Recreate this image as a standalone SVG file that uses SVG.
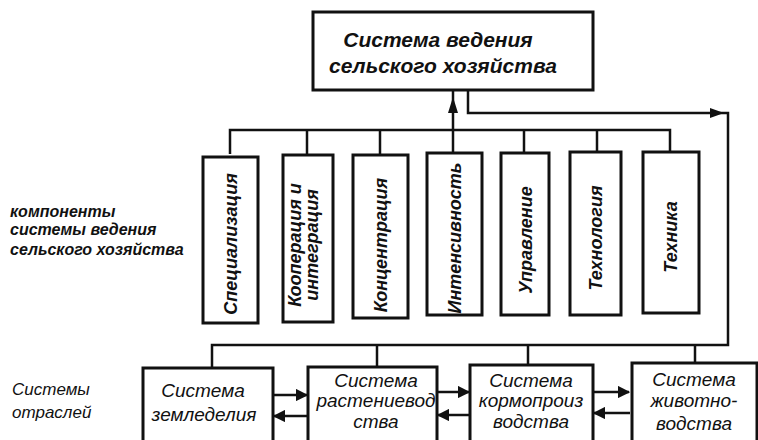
<svg xmlns="http://www.w3.org/2000/svg" width="758" height="440" viewBox="0 0 758 440">
<defs>
<style>
.box{fill:#fff;stroke:#111;stroke-width:3}
.ln{fill:none;stroke:#111;stroke-width:2.5}
.t{font-family:"Liberation Sans","DejaVu Sans",sans-serif;font-style:italic;fill:#111}
.big{font-size:21px;font-weight:bold}
.v{font-size:18px;font-weight:bold}
.b{font-size:19px}
.lab{font-size:16px;font-weight:bold}
.lab2{font-size:17px}
</style>
<marker id="ah" viewBox="0 0 10 10" refX="9" refY="5" markerWidth="5" markerHeight="5" orient="auto" markerUnits="strokeWidth">
<path d="M0,0 L10,5 L0,10 z" fill="#111"/>
</marker>
</defs>
<rect width="758" height="440" fill="#fff"/>

<g id="connectors">
<polyline class="ln" points="230,154 230,130 670,130 670,152"/>
<line class="ln" x1="307" y1="130" x2="307" y2="155"/>
<line class="ln" x1="380" y1="130" x2="380" y2="155"/>
<line class="ln" x1="453" y1="153" x2="453" y2="90"/>
<polygon points="453,97 448,113 458,113" fill="#111"/>
<line class="ln" x1="524" y1="130" x2="524" y2="153"/>
<line class="ln" x1="597" y1="130" x2="597" y2="152"/>
<polyline class="ln" points="468,90 468,113 728,113 728,345 212,345 212,368"/>
<polygon points="724,113 710,108 710,118" fill="#111"/>
<line class="ln" x1="377" y1="345" x2="377" y2="367"/>
<line class="ln" x1="528" y1="345" x2="528" y2="365"/>
<line class="ln" x1="695" y1="345" x2="695" y2="363"/>
<line class="ln" x1="273" y1="395" x2="307" y2="395" marker-end="url(#ah)"/>
<line class="ln" x1="308" y1="416" x2="274" y2="416" marker-end="url(#ah)"/>
<line class="ln" x1="437" y1="392" x2="469" y2="392" marker-end="url(#ah)"/>
<line class="ln" x1="470" y1="415" x2="438" y2="415" marker-end="url(#ah)"/>
<line class="ln" x1="593" y1="392" x2="629" y2="392" marker-end="url(#ah)"/>
<line class="ln" x1="630" y1="413" x2="594" y2="413" marker-end="url(#ah)"/>
</g>

<g id="top">
<rect class="box" x="313" y="12" width="280" height="78"/>
<text class="t big" x="438" y="47" text-anchor="middle">Система ведения</text>
<text class="t big" x="443" y="73" text-anchor="middle">сельского хозяйства</text>
</g>

<g id="c1">
<rect class="box" x="203" y="157" width="55" height="166"/>
<text class="t v" transform="translate(237,244) rotate(-90)" text-anchor="middle">Специализация</text>
</g>
<g id="c2">
<rect class="box" x="283" y="155" width="50" height="167"/>
<text class="t v" transform="translate(301,245) rotate(-90)" text-anchor="middle">Кооперация и</text>
<text class="t v" transform="translate(318,245) rotate(-90)" text-anchor="middle">интеграция</text>
</g>
<g id="c3">
<rect class="box" x="353" y="155" width="55" height="163"/>
<text class="t v" transform="translate(387,245) rotate(-90)" text-anchor="middle">Концентрация</text>
</g>
<g id="c4">
<rect class="box" x="427" y="153" width="55" height="162"/>
<text class="t v" transform="translate(461,238) rotate(-90)" text-anchor="middle">Интенсивность</text>
</g>
<g id="c5">
<rect class="box" x="501" y="153" width="48" height="162"/>
<text class="t v" transform="translate(532,240) rotate(-90)" text-anchor="middle">Управление</text>
</g>
<g id="c6">
<rect class="box" x="570" y="152" width="51" height="163"/>
<text class="t v" transform="translate(602,238) rotate(-90)" text-anchor="middle">Технология</text>
</g>
<g id="c7">
<rect class="box" x="643" y="152" width="56" height="161"/>
<text class="t v" transform="translate(677,237) rotate(-90)" text-anchor="middle">Техника</text>
</g>

<g id="b1">
<rect class="box" x="143" y="368" width="130" height="80"/>
<text class="t b" x="203" y="397" text-anchor="middle">Система</text>
<text class="t b" x="204" y="421" text-anchor="middle">земледелия</text>
</g>
<g id="b2">
<rect class="box" x="308" y="367" width="129" height="80"/>
<text class="t b" x="376" y="387" text-anchor="middle">Система</text>
<text class="t b" x="376" y="407" text-anchor="middle">растениевод</text>
<text class="t b" x="376" y="428" text-anchor="middle">ства</text>
</g>
<g id="b3">
<rect class="box" x="470" y="365" width="123" height="82"/>
<text class="t b" x="531" y="387" text-anchor="middle">Система</text>
<text class="t b" x="531" y="407" text-anchor="middle">кормопроиз</text>
<text class="t b" x="531" y="428" text-anchor="middle">водства</text>
</g>
<g id="b4">
<rect class="box" x="632" y="363" width="125" height="84"/>
<text class="t b" x="694" y="386" text-anchor="middle">Система</text>
<text class="t b" x="694" y="407" text-anchor="middle">животно-</text>
<text class="t b" x="694" y="430" text-anchor="middle">водства</text>
</g>

<g id="labels">
<text class="t lab" x="10" y="217">компоненты</text>
<text class="t lab" x="10" y="235">системы ведения</text>
<text class="t lab" x="10" y="255">сельского хозяйства</text>
<text class="t lab2" x="12" y="395">Системы</text>
<text class="t lab2" x="12" y="418">отраслей</text>
</g>
</svg>
